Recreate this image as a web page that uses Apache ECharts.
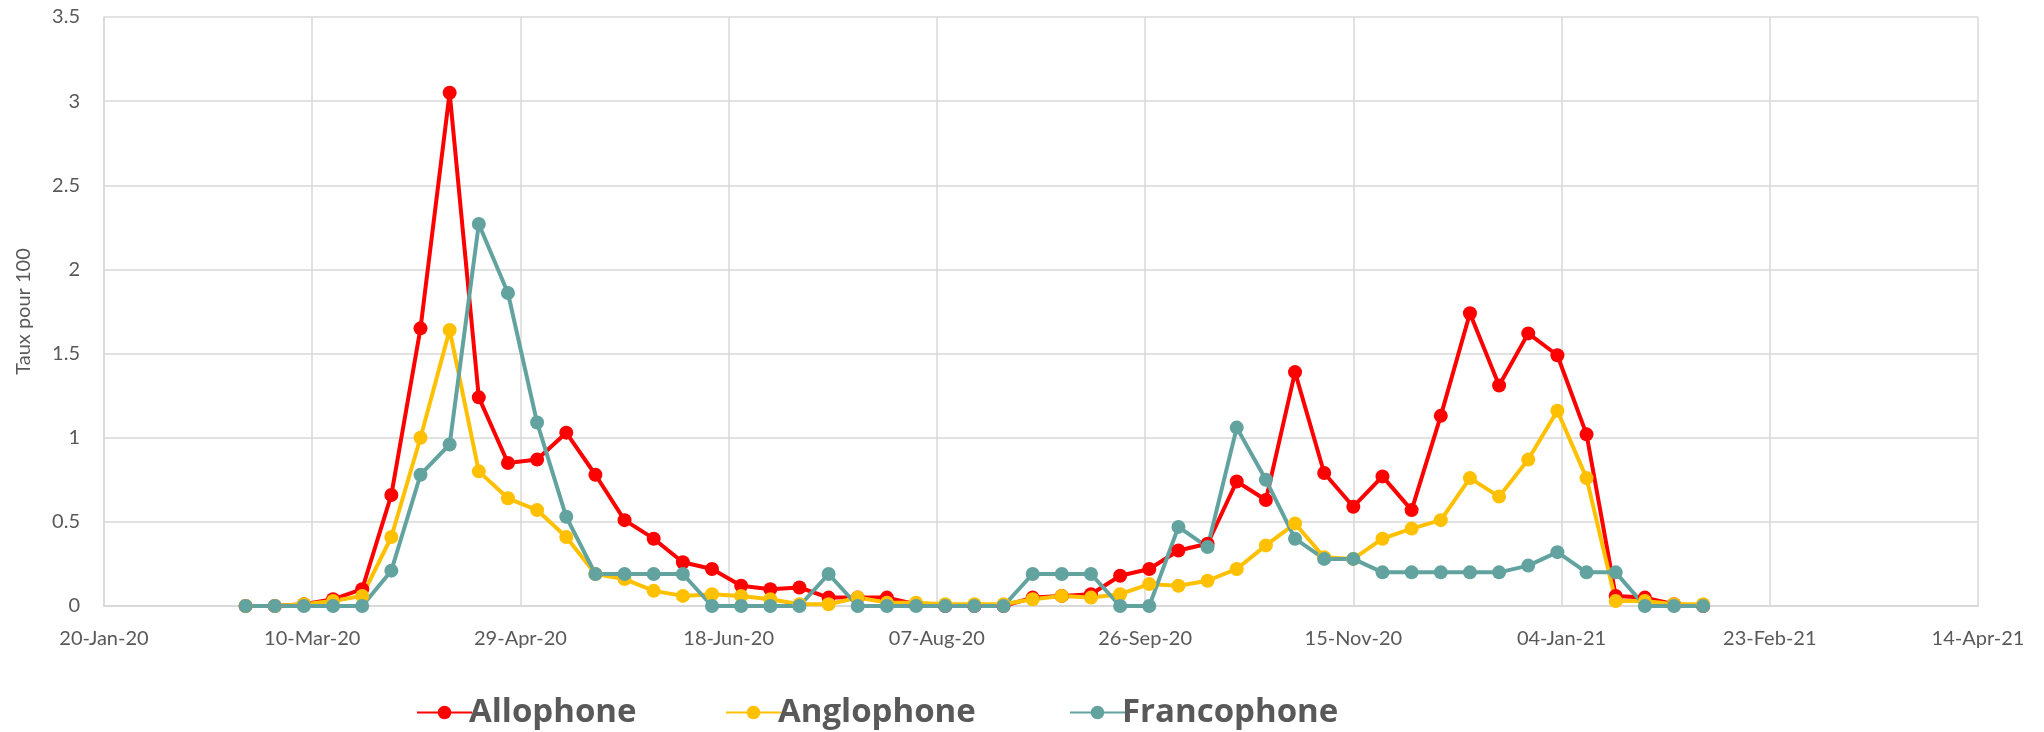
<!DOCTYPE html>
<html>
<head>
<meta charset="utf-8">
<script src="https://cdn.jsdelivr.net/npm/echarts@6/dist/echarts.min.js"></script>
<style>
  html, body { margin: 0; padding: 0; background: #fff; }
  #chart { width: 2044px; height: 732px; }
</style>
</head>
<body>
<div id="chart"></div>
<script>
// Weekly observation dates
const weeks = [
  '2020-02-23', '2020-03-01', '2020-03-08', '2020-03-15', '2020-03-22', '2020-03-29',
  '2020-04-05', '2020-04-12', '2020-04-19', '2020-04-26', '2020-05-03', '2020-05-10',
  '2020-05-17', '2020-05-24', '2020-05-31', '2020-06-07', '2020-06-14', '2020-06-21',
  '2020-06-28', '2020-07-05', '2020-07-12', '2020-07-19', '2020-07-26', '2020-08-02',
  '2020-08-09', '2020-08-16', '2020-08-23', '2020-08-30', '2020-09-06', '2020-09-13',
  '2020-09-20', '2020-09-27', '2020-10-04', '2020-10-11', '2020-10-18', '2020-10-25',
  '2020-11-01', '2020-11-08', '2020-11-15', '2020-11-22', '2020-11-29', '2020-12-06',
  '2020-12-13', '2020-12-20', '2020-12-27', '2021-01-03', '2021-01-10', '2021-01-17',
  '2021-01-24', '2021-01-31', '2021-02-07'
];

// Rates per 100, by language group
const allophone = [
  0, 0, 0.01, 0.04, 0.10, 0.66, 1.65, 3.05, 1.24, 0.85, 0.87, 1.03,
  0.78, 0.51, 0.40, 0.26, 0.22, 0.12, 0.10, 0.11, 0.05, 0.05, 0.05, 0.01,
  0, 0, 0, 0.05, 0.06, 0.07, 0.18, 0.22, 0.33, 0.37, 0.74, 0.63,
  1.39, 0.79, 0.59, 0.77, 0.57, 1.13, 1.74, 1.31, 1.62, 1.49, 1.02, 0.06,
  0.05, 0.01, 0
];
const anglophone = [
  0, 0, 0.01, 0.03, 0.06, 0.41, 1.00, 1.64, 0.80, 0.64, 0.57, 0.41,
  0.19, 0.16, 0.09, 0.06, 0.07, 0.06, 0.04, 0.01, 0.01, 0.05, 0.02, 0.02,
  0.01, 0.01, 0.01, 0.04, 0.06, 0.05, 0.07, 0.13, 0.12, 0.15, 0.22, 0.36,
  0.49, 0.29, 0.28, 0.40, 0.46, 0.51, 0.76, 0.65, 0.87, 1.16, 0.76, 0.03,
  0.03, 0.01, 0.01
];
const francophone = [
  0, 0, 0, 0, 0, 0.21, 0.78, 0.96, 2.27, 1.86, 1.09, 0.53,
  0.19, 0.19, 0.19, 0.19, 0, 0, 0, 0, 0.19, 0, 0, 0,
  0, 0, 0, 0.19, 0.19, 0.19, 0, 0, 0.47, 0.35, 1.06, 0.75,
  0.40, 0.28, 0.28, 0.20, 0.20, 0.20, 0.20, 0.20, 0.24, 0.32, 0.20, 0.20,
  0, 0, 0
];

// Horizontal axis: days counted from the first tick date, ticks every 50 days
const axisStart = '2020-01-20';
const axisDays = 450;
const tickStep = 50;
const monthNames = ['Jan', 'Feb', 'Mar', 'Apr', 'May', 'Jun', 'Jul', 'Aug', 'Sep', 'Oct', 'Nov', 'Dec'];

const DAY = 86400000;
const startMs = Date.parse(axisStart + 'T00:00:00Z');
const dayOffset = d => Math.round((Date.parse(d + 'T00:00:00Z') - startMs) / DAY);
const pad2 = n => (n < 10 ? '0' : '') + n;
function dateLabel(v) {
  const d = new Date(startMs + v * DAY);
  return pad2(d.getUTCDate()) + '-' + monthNames[d.getUTCMonth()] + '-' + String(d.getUTCFullYear()).slice(2);
}

const pairs = arr => weeks.map((w, i) => [dayOffset(w), arr[i]]);

const textColor = '#595959';
const gridColor = '#d9d9d9';
const fontFamily = 'Lato, "Open Sans", sans-serif';

function lineSeries(name, color, values) {
  return {
    name: name,
    type: 'line',
    data: pairs(values),
    symbol: 'circle',
    symbolSize: 14,
    showSymbol: true,
    lineStyle: { color: color, width: 4 },
    itemStyle: { color: color },
    emphasis: { disabled: true },
    animation: false
  };
}

// One legend entry per group, laid out along the bottom
function legendEntry(name, left) {
  return {
    left: left,
    top: 691,
    itemWidth: 55,
    itemHeight: 17,
    textStyle: { color: textColor, fontSize: 33, fontWeight: 'bold', fontFamily: '"Open Sans", sans-serif', padding: [0, 0, 0, -8] },
    data: [name]
  };
}

const chart = echarts.init(document.getElementById('chart'), null, { renderer: 'canvas' });
chart.setOption({
  backgroundColor: '#ffffff',
  animation: false,
  grid: { left: 104, right: 66, top: 17, bottom: 126, containLabel: false },
  legend: [
    legendEntry('Allophone', 411),
    legendEntry('Anglophone', 720),
    legendEntry('Francophone', 1064)
  ],
  xAxis: {
    type: 'value',
    min: 0,
    max: axisDays,
    interval: tickStep,
    axisLine: { show: true, lineStyle: { color: gridColor, width: 2 } },
    axisTick: { show: false },
    axisLabel: {
      color: textColor,
      fontSize: 20,
      fontFamily: fontFamily,
      margin: 23,
      formatter: dateLabel,
      showMinLabel: true,
      showMaxLabel: true
    },
    splitLine: { show: true, lineStyle: { color: gridColor, width: 1.5 } }
  },
  yAxis: {
    type: 'value',
    min: 0,
    max: 3.5,
    interval: 0.5,
    name: 'Taux pour 100',
    nameLocation: 'middle',
    nameGap: 70,
    nameRotate: 90,
    nameTextStyle: { color: textColor, fontSize: 20, fontFamily: fontFamily },
    axisLine: { show: true, lineStyle: { color: gridColor, width: 1.5 } },
    axisTick: { show: false },
    axisLabel: { color: textColor, fontSize: 20, fontFamily: fontFamily, margin: 24 },
    splitLine: { show: true, lineStyle: { color: gridColor, width: 1.5 } }
  },
  series: [
    lineSeries('Allophone', '#ff0000', allophone),
    lineSeries('Anglophone', '#ffc000', anglophone),
    lineSeries('Francophone', '#62a39f', francophone)
  ]
});
</script>
</body>
</html>
